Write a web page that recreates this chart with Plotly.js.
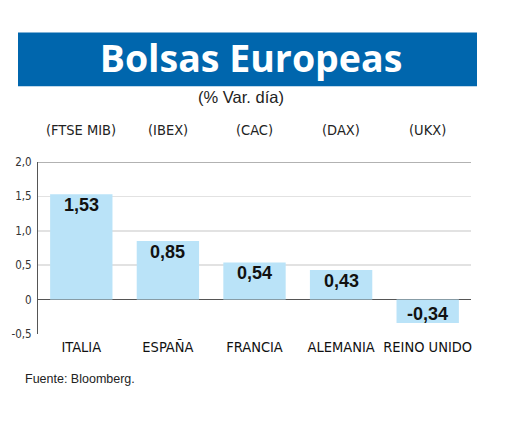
<!DOCTYPE html>
<html>
<head>
<meta charset="utf-8">
<script src="https://cdn.plot.ly/plotly-3.0.1.min.js"></script>
<style>html,body{margin:0;padding:0;background:#fff;}#chart{width:520px;height:426px;}</style>
</head>
<body>
<div id="chart"></div>
<script>
const countries = ['ITALIA', 'ESPAÑA', 'FRANCIA', 'ALEMANIA', 'REINO UNIDO'];
const indices = ['(FTSE MIB)', '(IBEX)', '(CAC)', '(DAX)', '(UKX)'];
const changes = [1.53, 0.85, 0.54, 0.43, -0.34];
const valueLabels = ['1,53', '0,85', '0,54', '0,43', '-0,34'];
const yTickVals = [2.0, 1.5, 1.0, 0.5, 0, -0.5];
const yTickText = ['2,0', '1,5', '1,0', '0,5', '0', '-0,5'];

const narrow = 'DejaVu Sans Condensed, Liberation Sans Narrow, sans-serif';
const W = 520, H = 426;
const L = 38, R = 471, T = 162, B = 334.5;
const px = x => (x - L) / (R - L);
const py = y => (B - y) / (B - T);

const trace = {
  type: 'bar',
  x: countries,
  y: changes,
  width: 0.72,
  marker: {color: '#BAE3F8', line: {width: 0}},
  hoverinfo: 'skip'
};

const annotations = [];
countries.forEach((c, i) => {
  const v = changes[i];
  annotations.push({
    x: c, y: v, xref: 'x', yref: 'y',
    text: valueLabels[i], showarrow: false,
    yanchor: v >= 0 ? 'top' : 'bottom',
    yshift: v >= 0 ? 1 : -3,
    font: {family: 'Liberation Sans, Arial, sans-serif', size: 18, color: '#111', weight: 'bold'}
  });
  annotations.push({
    x: c, y: py(130), xref: 'x', yref: 'paper',
    text: indices[i], showarrow: false, yanchor: 'middle',
    font: {family: narrow, size: 14.5, color: '#222'}
  });
});
annotations.push({
  x: px(241), y: py(97), xref: 'paper', yref: 'paper',
  text: '(% Var. día)', showarrow: false, xanchor: 'center', yanchor: 'middle',
  font: {family: 'Liberation Sans, Arial, sans-serif', size: 16.5, color: '#222'}
});
annotations.push({
  x: px(23), y: py(380), xref: 'paper', yref: 'paper',
  text: 'Fuente: Bloomberg.', showarrow: false, xanchor: 'left', yanchor: 'middle',
  font: {family: 'Liberation Sans, Arial, sans-serif', size: 12.5, color: '#222'}
});

const shapes = [
  {type: 'rect', xref: 'paper', yref: 'paper', x0: px(18), x1: px(477), y0: py(86), y1: py(32),
   fillcolor: '#0066AD', line: {width: 0}, layer: 'below'},
  {type: 'line', xref: 'paper', yref: 'y', x0: 0, x1: 1, y0: yTickVals[0], y1: yTickVals[0],
   line: {color: '#666', width: 1.2}, layer: 'below'},
  {type: 'line', xref: 'paper', yref: 'y', x0: 0, x1: 1, y0: yTickVals[2], y1: yTickVals[2],
   line: {color: '#999', width: 1}, layer: 'below'}
];

const layout = {
  width: W, height: H,
  margin: {l: L, r: W - R, t: T, b: H - B, pad: 0},
  paper_bgcolor: '#fff', plot_bgcolor: '#fff',
  separators: ', ',
  showlegend: false,
  title: {
    text: '<b>Bolsas Europeas</b>',
    x: 251 / W, y: 1 - 59 / H, xanchor: 'center', yanchor: 'middle',
    xref: 'container', yref: 'container',
    font: {family: 'Open Sans, Lato, sans-serif', size: 37.5, color: '#fff'}
  },
  xaxis: {
    showgrid: false, zeroline: false, showline: false, ticks: '',
    tickangle: 0, ticklabelstandoff: 2,
    tickfont: {family: narrow, size: 14.5, color: '#111'},
    fixedrange: true
  },
  yaxis: {
    range: [-0.5, 2.0],
    tickvals: yTickVals, ticktext: yTickText,
    showgrid: true, gridcolor: '#E2E2E2', gridwidth: 1.5,
    zeroline: true, zerolinecolor: '#555', zerolinewidth: 1.2,
    showline: true, linecolor: '#555', linewidth: 1,
    ticks: '', ticklabelstandoff: 3,
    tickfont: {family: narrow, size: 11.5, color: '#333'},
    fixedrange: true
  },
  shapes: shapes,
  annotations: annotations
};

Plotly.newPlot('chart', [trace], layout, {displayModeBar: false, staticPlot: true});
</script>
</body>
</html>
